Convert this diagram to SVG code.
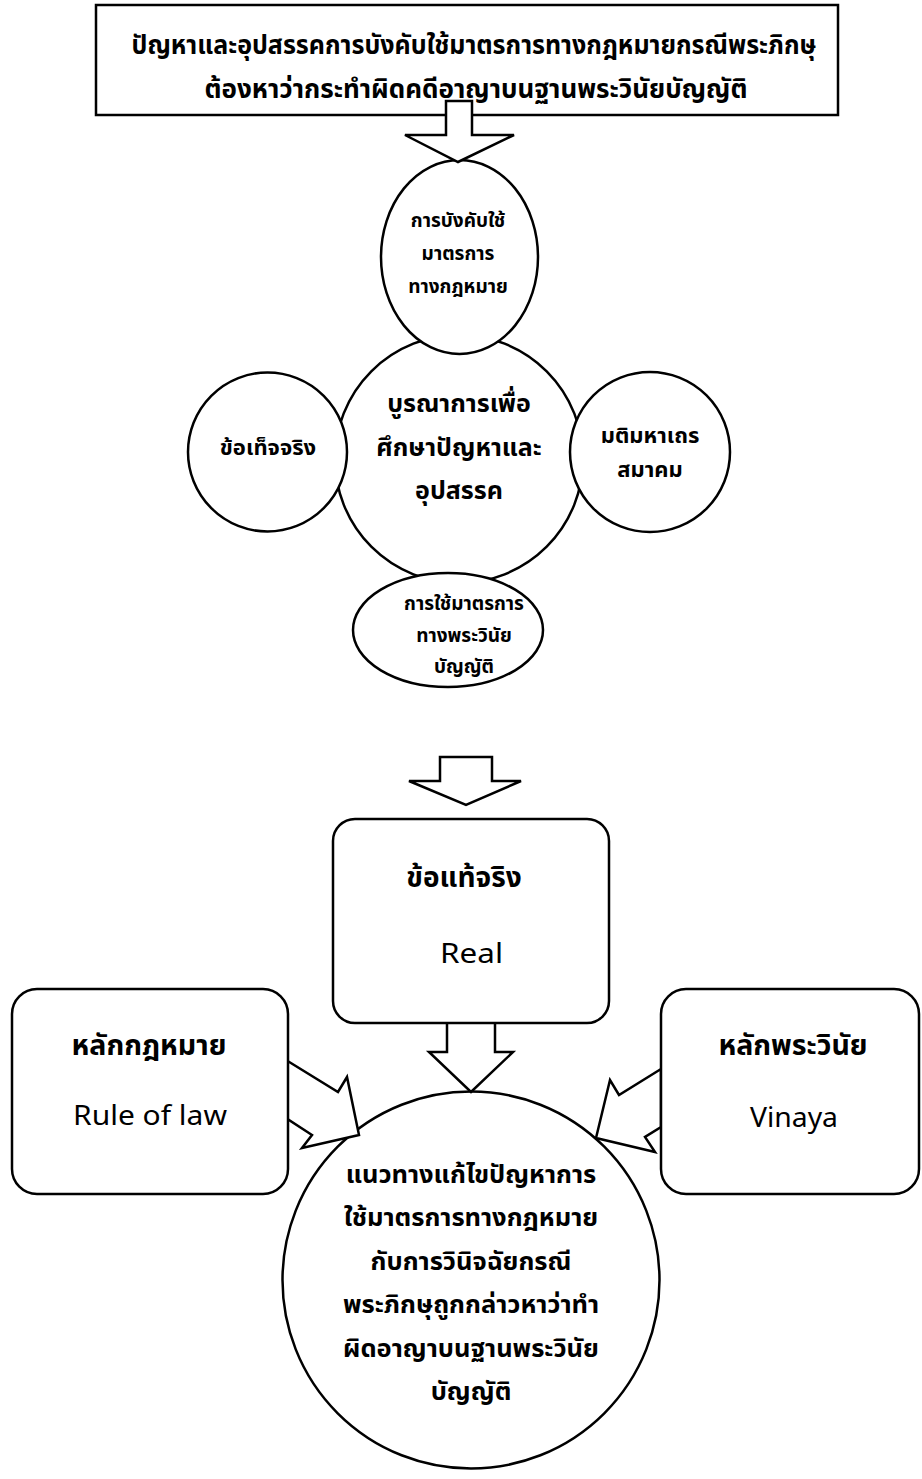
<svg xmlns="http://www.w3.org/2000/svg" width="922" height="1479" viewBox="0 0 922 1479">
<style>
.s{fill:#fff;stroke:#000;stroke-width:2.5;stroke-linejoin:miter}
.t{font-family:'Noto Sans Thai','Noto Sans Thai Looped','Leelawadee UI',Tahoma,'Noto Sans','DejaVu Sans',sans-serif;fill:#000;text-anchor:middle;font-weight:bold}
.e{font-family:'Noto Sans','Open Sans','DejaVu Sans',sans-serif;fill:#000;text-anchor:middle;font-weight:normal;font-size:27px}
</style>
<rect width="922" height="1479" fill="#fff"/>
<g id="title">
<rect class="s" x="96" y="5" width="742" height="110"/>
<text class="t" x="474" y="54" font-size="26" textLength="685" lengthAdjust="spacingAndGlyphs">ปัญหาและอุปสรรคการบังคับใช้มาตรการทางกฎหมายกรณีพระภิกษุ</text>
<text class="t" x="476" y="98" font-size="26">ต้องหาว่ากระทำผิดคดีอาญาบนฐานพระวินัยบัญญัติ</text>
</g>
<g id="center">
<circle class="s" cx="459" cy="459" r="124"/>
<text class="t" x="459" y="412" font-size="25">บูรณาการเพื่อ</text>
<text class="t" x="459" y="456" font-size="25">ศึกษาปัญหาและ</text>
<text class="t" x="459" y="499" font-size="25">อุปสรรค</text>
</g>
<g id="legal">
<ellipse class="s" cx="459.5" cy="257" rx="78.5" ry="97"/>
<text class="t" x="458" y="227" font-size="19">การบังคับใช้</text>
<text class="t" x="458" y="260" font-size="19">มาตรการ</text>
<text class="t" x="458" y="293" font-size="19">ทางกฎหมาย</text>
</g>
<g id="fact">
<circle class="s" cx="267.5" cy="452" r="79.5"/>
<text class="t" x="268" y="455" font-size="22">ข้อเท็จจริง</text>
</g>
<g id="council">
<circle class="s" cx="650" cy="452" r="80"/>
<text class="t" x="650" y="443" font-size="22">มติมหาเถร</text>
<text class="t" x="650" y="477" font-size="22">สมาคม</text>
</g>
<g id="vinaya-measure">
<ellipse class="s" cx="448" cy="630" rx="95" ry="57"/>
<text class="t" x="464" y="610" font-size="19">การใช้มาตรการ</text>
<text class="t" x="464" y="642" font-size="19">ทางพระวินัย</text>
<text class="t" x="464" y="673" font-size="19">บัญญัติ</text>
</g>
<g id="solution">
<circle class="s" cx="471" cy="1280" r="188.5"/>
<text class="t" x="471" y="1183" font-size="25.5">แนวทางแก้ไขปัญหาการ</text>
<text class="t" x="471" y="1226" font-size="25.5">ใช้มาตรการทางกฎหมาย</text>
<text class="t" x="471" y="1270" font-size="25.5">กับการวินิจฉัยกรณี</text>
<text class="t" x="471" y="1313" font-size="25.5">พระภิกษุถูกกล่าวหาว่าทำ</text>
<text class="t" x="471" y="1357" font-size="25.5">ผิดอาญาบนฐานพระวินัย</text>
<text class="t" x="471" y="1400" font-size="25.5">บัญญัติ</text>
</g>
<g id="connectors">
<polygon class="s" points="446,101 472,101 472,135 514,135 458,162 405,135 446,135"/>
<polygon class="s" points="440,757 492,757 492,781 521,781 466,805 409,781 440,781"/>
<polygon class="s" points="447,1022 495,1022 495,1052 513,1052 471,1092 429,1052 447,1052"/>
<polygon class="s" points="286,1060 338,1092 347,1077 359,1135 302,1148 312,1135 286,1118"/>
<polygon class="s" points="661,1069 619,1095 610,1080 596,1138 655,1152 645,1137 661,1127"/>
</g>
<g id="real">
<rect class="s" x="333" y="819" width="276" height="204" rx="22"/>
<text class="t" x="464" y="887" font-size="28">ข้อแท้จริง</text>
<text class="e" x="471.5" y="963" textLength="63" lengthAdjust="spacingAndGlyphs">Real</text>
</g>
<g id="rule-of-law">
<rect class="s" x="12" y="989" width="276" height="205" rx="25"/>
<text class="t" x="149" y="1055" font-size="28.5">หลักกฎหมาย</text>
<text class="e" x="150" y="1125" textLength="154" lengthAdjust="spacingAndGlyphs">Rule of law</text>
</g>
<g id="vinaya">
<rect class="s" x="661" y="989" width="258" height="205" rx="25"/>
<text class="t" x="793" y="1055" font-size="28.5">หลักพระวินัย</text>
<text class="e" x="794" y="1127" textLength="88" lengthAdjust="spacingAndGlyphs">Vinaya</text>
</g>
</svg>
